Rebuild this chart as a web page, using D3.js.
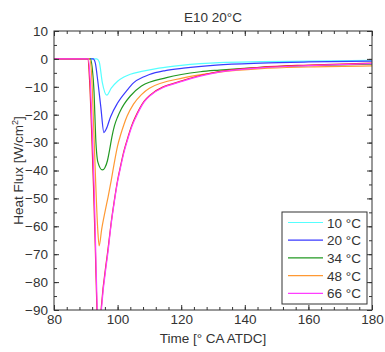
<!DOCTYPE html>
<html>
<head>
<meta charset="utf-8">
<script src="https://cdn.jsdelivr.net/npm/d3@7"></script>
<style>
  body { margin: 0; background: #fff; }
  text { font-family: "Liberation Sans", Arial, sans-serif; fill: #333; }
</style>
</head>
<body>
<div id="chart"></div>
<script>
// legend labels, in draw order
const labels = ["10 °C", "20 °C", "34 °C", "48 °C", "66 °C"];

// [time (deg CA ATDC), heat flux (W/cm2)]
const hf10 = [[80,0],[93.4,0],[94.2,-1],[95.2,-8.5],[96.6,-13],[98,-10.5],[100,-8],[102,-6.5],[104,-5.5],[108,-4.4],[113,-3.3],[120,-2.3],[126,-1.7],[132,-1.3],[145,-1],[160,-0.8],[180,-0.5]];
const hf20 = [[80,0],[92.3,0],[93,-1.5],[93.6,-6.4],[94.7,-17],[95.7,-26.4],[96.4,-25.2],[97.8,-20.7],[99.9,-16],[103,-11.2],[105,-8.6],[108.3,-6.4],[110,-5.6],[115,-4.2],[120.7,-3.3],[131,-2.2],[145,-1.5],[160,-1.1],[180,-0.8]];
const hf34 = [[80,0],[91.4,0],[92,-3],[92.6,-12],[93.1,-28],[93.8,-37],[95.2,-39.8],[96,-39],[96.8,-36.5],[97.5,-32.5],[98.2,-28],[99,-24],[100,-20.8],[101,-18.3],[102,-16.3],[104,-13.3],[107.5,-9.7],[115.4,-6.7],[126,-4.6],[132,-4],[145,-3],[160,-2.4],[180,-1.9]];
const hf48 = [[80,0],[91.2,0],[91.8,-5],[92.5,-25],[93.1,-44],[93.7,-60],[94.2,-67],[95,-61],[96,-55],[97,-49.5],[98,-43.5],[99,-37],[100,-31.2],[101,-27],[102,-23.5],[103,-20.5],[105,-16.2],[107.5,-12.8],[110,-10.5],[120.7,-6.8],[131,-4.9],[145,-3.5],[160,-2.9],[180,-2.5]];
const hf66 = [[80,0],[90.8,0],[91.4,-8],[92,-25],[92.6,-45],[93.1,-68],[93.6,-90],[94.3,-100],[94.9,-90],[97.1,-68],[98,-59],[99,-51],[100,-44],[101,-38.5],[102,-33.5],[103,-29.5],[104.4,-24.5],[105.5,-21.5],[107,-18],[108.3,-15.5],[110.2,-13.2],[120.7,-7.9],[131,-4.9],[145,-3.2],[160,-2.4],[180,-1.7]];
// extra red trace, mostly hidden under the magenta one, no legend entry
const hfRed = [[80,0],[90.6,0],[91.2,-8],[91.8,-25],[92.4,-45],[93,-68],[93.5,-90],[94.2,-100],[94.8,-90],[97,-68],[98,-58.5],[99,-50.5],[100,-43.5],[101,-38],[102,-33],[103,-29],[104.4,-24],[105.5,-21],[107,-17.6],[108.3,-15.2],[110.2,-13],[120.7,-7.7],[131,-4.7],[145,-3],[160,-2.2],[180,-1.5]];

const colors = ["#55ffff", "#3a3aff", "#229922", "#ff9933", "#ff3dff"];

const xTicks = [80, 100, 120, 140, 160, 180];
const yTicks = [10, 0, -10, -20, -30, -40, -50, -60, -70, -80, -90];

const W = 385, H = 352;
const margin = { top: 31, right: 13, bottom: 42, left: 54 };
const width = W - margin.left - margin.right;
const height = H - margin.top - margin.bottom;

const svg = d3.select("#chart").append("svg")
  .attr("width", W)
  .attr("height", H);

const x = d3.scaleLinear().domain([80, 180]).range([margin.left, margin.left + width]);
const y = d3.scaleLinear().domain([-90, 10]).range([margin.top + height, margin.top]);

svg.append("clipPath").attr("id", "clip")
  .append("rect")
  .attr("x", margin.left).attr("y", margin.top)
  .attr("width", width).attr("height", height);

// curves
const line = d3.line()
  .x(d => x(d[0]))
  .y(d => y(d[1]))
  .curve(d3.curveMonotoneX);

const plot = svg.append("g").attr("clip-path", "url(#clip)");
const series = [hf10, hf20, hf34, hf48, hfRed, hf66];
const seriesColors = [colors[0], colors[1], colors[2], colors[3], "#ee2222", colors[4]];
series.forEach((s, i) => {
  plot.append("path")
    .datum(s)
    .attr("fill", "none")
    .attr("stroke", seriesColors[i])
    .attr("stroke-width", 1.2)
    .attr("d", line);
});

// axes: ticks point inward on all four sides
const xMinor = d3.range(80, 181, 4);
const yMinor = d3.range(-90, 11, 5);
const axisColor = "#333";

function drawAxis(axisFn, scale, major, minor, tx, showLabels) {
  const gMin = svg.append("g").attr("transform", tx)
    .call(axisFn(scale).tickValues(minor).tickSize(-3).tickFormat(""));
  const gMaj = svg.append("g").attr("transform", tx)
    .call(axisFn(scale).tickValues(major).tickSize(-5).tickPadding(6)
      .tickFormat(showLabels ? d3.format("d") : ""));
  [gMin, gMaj].forEach(g => {
    g.select(".domain").remove();
    g.selectAll(".tick line").attr("stroke", axisColor);
  });
  gMaj.selectAll("text").style("font-size", "13.5px").attr("fill", "#333");
  return gMaj;
}

const gx = drawAxis(d3.axisBottom, x, xTicks, xMinor, `translate(0,${margin.top + height})`, true);
gx.selectAll("text").attr("y", 4).attr("dy", "0.71em");
drawAxis(d3.axisTop, x, xTicks, xMinor, `translate(0,${margin.top})`, false);
drawAxis(d3.axisLeft, y, yTicks, yMinor, `translate(${margin.left},0)`, true);
drawAxis(d3.axisRight, y, yTicks, yMinor, `translate(${margin.left + width},0)`, false);

// box
svg.append("rect")
  .attr("x", margin.left).attr("y", margin.top)
  .attr("width", width).attr("height", height)
  .attr("fill", "none")
  .attr("stroke", axisColor)
  .attr("stroke-width", 1);

// title and axis labels
svg.append("text")
  .attr("x", margin.left + width / 2).attr("y", 21.5)
  .attr("text-anchor", "middle")
  .style("font-size", "13.5px")
  .text("E10 20°C");

svg.append("text")
  .attr("x", margin.left + width / 2).attr("y", 343)
  .attr("text-anchor", "middle")
  .style("font-size", "13.5px")
  .text("Time [° CA ATDC]");

const yl = svg.append("text")
  .attr("transform", `translate(23,${margin.top + height / 2}) rotate(-90)`)
  .attr("text-anchor", "middle")
  .style("font-size", "13.5px");
yl.append("tspan").text("Heat Flux [W/cm");
yl.append("tspan").text("2").attr("dy", -5).style("font-size", "9px");
yl.append("tspan").text("]").attr("dy", 5);

// legend
const lg = svg.append("g").attr("transform", "translate(282,212)");
lg.append("rect")
  .attr("width", 85).attr("height", 92)
  .attr("fill", "#fff")
  .attr("stroke", axisColor);
labels.forEach((lab, i) => {
  const cy = 10.5 + i * 17.7;
  lg.append("line")
    .attr("x1", 6).attr("x2", 41)
    .attr("y1", cy).attr("y2", cy)
    .attr("stroke", colors[i])
    .attr("stroke-width", 1.2);
  lg.append("text")
    .attr("x", 45).attr("y", cy + 5)
    .style("font-size", "13.5px")
    .text(lab);
});
</script>
</body>
</html>
